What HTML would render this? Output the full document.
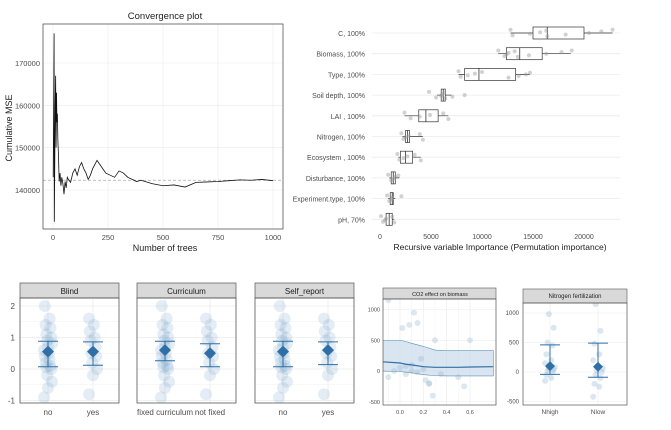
<!DOCTYPE html>
<html><head><meta charset="utf-8"><style>
body{margin:0;background:#fff;font-family:"Liberation Sans",sans-serif}
svg text{font-family:"Liberation Sans",sans-serif}
</style></head><body>
<svg id="s" width="671" height="425" xmlns="http://www.w3.org/2000/svg">
<defs><clipPath id="co2clip"><rect x="383" y="299" width="113" height="106"/></clipPath><clipPath id="nclip"><rect x="523" y="303" width="104" height="102"/></clipPath></defs>
</svg>
<script>
// ---- data ----
const convTrees=[1,5,6,8,10,12,14,16,18,20,22,25,28,32,36,40,45,50,55,60,65,70,80,90,100,110,120,130,140,150,160,170,180,190,200,220,240,260,280,300,320,340,360,380,400,450,500,550,600,650,700,750,800,850,900,950,1000];
const convMse=[143000,177000,132500,146000,160000,167000,150000,163000,156000,158000,152000,148000,142000,144000,141000,143000,141500,139000,142000,140500,143000,142500,141800,144000,145000,143500,145500,146500,145000,144000,142500,143500,145000,146000,147000,145500,144000,143500,143000,144500,144000,143000,142500,142000,142300,141500,141000,141200,140700,141800,141900,142000,142200,142400,142300,142500,142200];
const convRef=142300;
const impVars=["C, 100%","Biomass, 100%","Type, 100% ","Soil depth, 100%","LAI , 100%","Nitrogen, 100%","Ecosystem , 100%","Disturbance, 100%","Experiment.type, 100%","pH, 70%"];
const impQ1=[15000,12400,8300,6000,3800,2500,2000,1100,1000,600];
const impMed=[16400,13700,9700,6200,4500,2700,2500,1300,1200,900];
const impQ3=[20000,15900,13300,6400,5700,2900,3200,1500,1300,1200];
const impMin=[12800,11600,7700,5600,2400,2200,1800,900,800,500];
const impMax=[22800,18700,14700,7000,6700,4200,4000,1900,1500,1400];
const impPts=[[12800,13000,14700,15700,16300,16400,18200,20500,21700,22800],[11600,12200,12400,12600,13200,13500,14600,16300,17800,18800],[7700,7900,8600,9300,10000,12600,13600,14300,14700],[4800,5500,6000,6100,6300,6400,7100,8300],[2400,3000,3900,4900,6200,6700],[2100,2300,2500,2800,3900,4200],[1700,1900,2300,2700,3400,4000],[800,1100,1300,1500,1800],[700,900,1100,1200,2100],[100,300,500,600,1200,1400]];
const bpPanels=["Blind","Curriculum","Self_report"];
const bpCats=[["no","yes"],["fixed curriculum","not fixed"],["no","yes"]];
const bpMean=[[0.55,0.55],[0.6,0.5],[0.55,0.6]];
const bpLo=[[0.07,0.12],[0.26,0.07],[0.07,0.14]];
const bpHi=[[0.88,0.86],[0.88,0.8],[0.88,0.86]];
const bpPts=[[-0.9,-0.6,-0.4,-0.2,0,0.05,0.1,0.2,0.3,0.4,0.5,0.6,0.7,0.8,0.9,1,1.1,1.3,1.4,1.6,2],[-0.8,-0.2,0,0.2,0.4,0.5,0.7,0.9,1,1.2,1.4,1.6]];
const co2X=[-0.15,0,0.05,0.1,0.2,0.3,0.4,0.5,0.6,0.8];
const co2Fit=[150,130,110,100,70,60,60,60,65,70];
const co2Lo=[0,-10,-20,-30,-60,-75,-80,-80,-80,-80];
const co2Hi=[500,500,480,450,400,340,330,330,330,330];
const co2PtX=[-0.1,-0.05,0,0.02,0.05,0.08,0.1,0.12,0.15,0.18,0.2,0.22,0.25,0.28,0.3,0.35,0.5,0.55,0.1,0.15,0.05,-0.1,0.25,0.6];
const co2PtY=[1150,0,50,700,-50,750,100,950,780,200,30,-150,-200,-400,500,-50,-100,-250,0,-20,80,-100,-210,500];
const nCats=["Nhigh","Nlow"];
const nMean=[100,90];
const nLo=[-40,-90];
const nHi=[460,490];
const nPts=[[-150,-100,-50,0,20,40,60,80,100,150,200,300,450,500,750,980],[-420,-250,-200,-100,-50,0,30,60,100,200,300,480,700,1150]];
// ---- helpers ----
const S=document.getElementById('s');const NS='http://www.w3.org/2000/svg';
function el(t,a,p){const e=document.createElementNS(NS,t);for(const k in a)e.setAttribute(k,a[k]);(p||S).appendChild(e);return e;}
function tx(x,y,s,o){const e=el('text',Object.assign({x:x,y:y,'font-size':8,fill:'#4d4d4d'},o||{}));e.textContent=s;return e;}
// ---- convergence ----
const cg=el('g',{});


const cx=v=>53+v*0.22, cy=v=>63+(170000-v)*127/30000;
[0,250,500,750,1000].forEach(v=>{el('line',{x1:cx(v),x2:cx(v),y1:24,y2:229,stroke:'#ebebeb','stroke-width':0.6},cg);tx(cx(v),240,v,{'text-anchor':'middle','font-size':7.5,fill:'#4d4d4d'});});
[140000,150000,160000,170000].forEach(v=>{el('line',{x1:43,x2:283,y1:cy(v),y2:cy(v),stroke:'#ebebeb','stroke-width':0.6},cg);tx(40,cy(v)+3,v,{'text-anchor':'end','font-size':7.5});});
el('line',{x1:43,x2:283,y1:cy(convRef),y2:cy(convRef),stroke:'#aaa','stroke-dasharray':'3,2','stroke-width':0.8},cg);
el('polyline',{points:convTrees.map((t,i)=>cx(t)+','+cy(convMse[i])).join(' '),fill:'none',stroke:'#111','stroke-width':0.8},cg);
el('rect',{x:43,y:24,width:240,height:205,fill:'none',stroke:'#555','stroke-width':0.8},cg);
tx(165,19,'Convergence plot',{'text-anchor':'middle','font-size':9.5,fill:'#222'});
tx(165,251,'Number of trees',{'text-anchor':'middle','font-size':9,fill:'#222'});
tx(12,128,'Cumulative MSE',{'text-anchor':'middle','font-size':9,fill:'#222',transform:'rotate(-90 12 128)'});
// ---- importance ----
const ix=v=>380+v*0.0102, iy=i=>33+i*20.7;
[0,5000,10000,15000,20000].forEach(v=>tx(ix(v),239,v,{'text-anchor':'middle','font-size':7}));
impVars.forEach((n,i)=>{const y=iy(i);
el('line',{x1:372,x2:620,y1:y,y2:y,stroke:'#ebebeb','stroke-width':0.8});
tx(365,y+3,n,{'text-anchor':'end','font-size':7});
el('line',{x1:ix(impMin[i]),x2:ix(impMax[i]),y1:y,y2:y,stroke:'#333','stroke-width':0.7});
const b=el('rect',{x:ix(impQ1[i]),y:y-6,width:ix(impQ3[i])-ix(impQ1[i]),height:12,fill:'#fff',stroke:'#333','stroke-width':0.7});


el('line',{x1:ix(impMed[i]),x2:ix(impMed[i]),y1:y-6,y2:y+6,stroke:'#333','stroke-width':0.8});
impPts[i].forEach((v,k)=>el('circle',{cx:ix(v),cy:y+((k*7)%9-4)*0.8,r:2,fill:'#999','fill-opacity':0.45}));});
tx(500,250,'Recursive variable Importance (Permutation importance)',{'text-anchor':'middle','font-size':8.5,fill:'#222'});
// ---- bottom three panels ----
const by=v=>369-v*31.5;
[20,137,255].forEach((x0,p)=>{const w=99;
const r=el('rect',{x:x0,y:283,width:w,height:15,fill:'#d9d9d9',stroke:'#555','stroke-width':0.7});


tx(x0+w/2,294,bpPanels[p],{'text-anchor':'middle','font-size':8,fill:'#1a1a1a'});
[-0.5,0.5,1.5].forEach(v=>el('line',{x1:x0,x2:x0+w,y1:by(v),y2:by(v),stroke:'#f2f2f2','stroke-width':0.6}));
[-1,0,1,2].forEach(v=>el('line',{x1:x0,x2:x0+w,y1:by(v),y2:by(v),stroke:'#ebebeb','stroke-width':0.8}));
[0,1].forEach(c=>{const x=x0+28+c*45;
el('line',{x1:x,x2:x,y1:298,y2:403,stroke:'#ebebeb','stroke-width':0.8});
bpPts[c].forEach((v,k)=>el('circle',{cx:x+((k*5)%11-5)*0.8,cy:by(v),r:6,fill:'#6b9dc7','fill-opacity':0.18}));
el('line',{x1:x,x2:x,y1:by(bpHi[p][c]),y2:by(bpLo[p][c]),stroke:'#2f6fa6','stroke-width':1});
el('line',{x1:x-10,x2:x+10,y1:by(bpHi[p][c]),y2:by(bpHi[p][c]),stroke:'#2f6fa6','stroke-width':1});
el('line',{x1:x-10,x2:x+10,y1:by(bpLo[p][c]),y2:by(bpLo[p][c]),stroke:'#2f6fa6','stroke-width':1});
const m=by(bpMean[p][c]);
el('polygon',{points:`${x},${m-6} ${x+6},${m} ${x},${m+6} ${x-6},${m}`,fill:'#2f6fa6'});
tx(x,415,bpCats[p][c],{'text-anchor':'middle','font-size':8,fill:'#4d4d4d'});});
el('rect',{x:x0,y:298,width:w,height:105,fill:'none',stroke:'#555','stroke-width':0.8});});
[-1,0,1,2].forEach(v=>tx(15,by(v)+3,v,{'text-anchor':'end','font-size':8}));
// ---- CO2 ----
const ox=v=>400+v*116.7, oy=v=>371-v*0.0615;
const og=el('g',{'clip-path':'url(#co2clip)'});
[-0.1,0.1,0.3,0.5].forEach(v=>el('line',{x1:ox(v),x2:ox(v),y1:299,y2:405,stroke:'#f3f3f3','stroke-width':0.6},og));
[0,0.2,0.4,0.6].forEach(v=>{el('line',{x1:ox(v),x2:ox(v),y1:299,y2:405,stroke:'#ebebeb','stroke-width':0.6},og);tx(ox(v),414,v.toFixed(1),{'text-anchor':'middle','font-size':5.5});});
[-500,0,500,1000].forEach(v=>{el('line',{x1:383,x2:496,y1:oy(v),y2:oy(v),stroke:'#ebebeb','stroke-width':0.6},og);tx(380,oy(v)+2,v,{'text-anchor':'end','font-size':5.5});});
el('polygon',{points:co2X.map((v,i)=>ox(v)+','+oy(co2Hi[i])).concat(co2X.slice().reverse().map((v,i)=>ox(v)+','+oy(co2Lo[co2X.length-1-i]))).join(' '),fill:'#b9d1e6','fill-opacity':0.55,stroke:'#5b8db8','stroke-width':0.6},og);
co2PtX.forEach((v,i)=>el('circle',{cx:ox(v),cy:oy(co2PtY[i]),r:3,fill:'#8fb0cc','fill-opacity':0.3},og));
el('polyline',{points:co2X.map((v,i)=>ox(v)+','+oy(co2Fit[i])).join(' '),fill:'none',stroke:'#2f6fa6','stroke-width':1.2},og);
el('rect',{x:383,y:288,width:113,height:11,fill:'#d9d9d9',stroke:'#555','stroke-width':0.6});
tx(440,296,'CO2 effect on biomass',{'text-anchor':'middle','font-size':5.5,fill:'#222'});
el('rect',{x:383,y:299,width:113,height:106,fill:'none',stroke:'#555','stroke-width':0.7});
// ---- Nitrogen ----
const ny=v=>372-v*0.059;
const ng=el('g',{'clip-path':'url(#nclip)'});
[-500,0,500,1000].forEach(v=>{el('line',{x1:523,x2:627,y1:ny(v),y2:ny(v),stroke:'#ebebeb','stroke-width':0.6},ng);tx(519,ny(v)+2,v,{'text-anchor':'end','font-size':6});});
nCats.forEach((c,j)=>{const x=550+j*48;
el('line',{x1:x,x2:x,y1:303,y2:405,stroke:'#ebebeb','stroke-width':0.6},ng);
nPts[j].forEach((v,k)=>el('circle',{cx:x+((k*5)%9-4)*1.2,cy:ny(v),r:3,fill:'#6b9dc7','fill-opacity':0.25},ng));
el('line',{x1:x,x2:x,y1:ny(nHi[j]),y2:ny(nLo[j]),stroke:'#2f6fa6','stroke-width':1});
el('line',{x1:x-10,x2:x+10,y1:ny(nHi[j]),y2:ny(nHi[j]),stroke:'#2f6fa6','stroke-width':1});
el('line',{x1:x-10,x2:x+10,y1:ny(nLo[j]),y2:ny(nLo[j]),stroke:'#2f6fa6','stroke-width':1});
const m=ny(nMean[j]);el('polygon',{points:`${x},${m-5} ${x+5},${m} ${x},${m+5} ${x-5},${m}`,fill:'#2f6fa6'});
tx(x,414,c,{'text-anchor':'middle','font-size':6.5});});
el('rect',{x:523,y:289,width:104,height:14,fill:'#d9d9d9',stroke:'#555','stroke-width':0.6});
tx(575,298,'Nitrogen fertilization',{'text-anchor':'middle','font-size':6,fill:'#222'});
el('rect',{x:523,y:303,width:104,height:102,fill:'none',stroke:'#555','stroke-width':0.7});
</script>
</body></html>
